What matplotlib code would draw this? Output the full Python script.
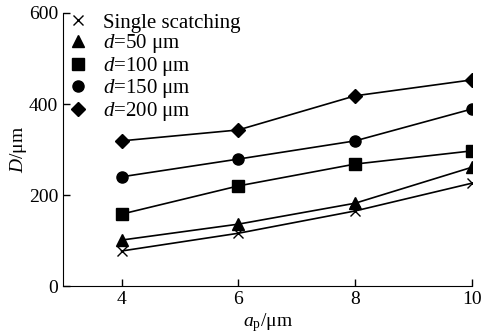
import matplotlib
matplotlib.use("Agg")
import matplotlib.pyplot as plt
from matplotlib.lines import Line2D

plt.rcParams['font.family'] = ['Liberation Serif', 'DejaVu Serif']
plt.rcParams['mathtext.fontset'] = 'custom'
plt.rcParams['mathtext.rm'] = 'Liberation Serif'
plt.rcParams['mathtext.it'] = 'Liberation Serif:italic'

ap = [4, 6, 8, 10]
single = [77, 116, 165, 226]
d50 = [101, 136, 182, 261]
d100 = [158, 220, 268, 297]
d150 = [240, 279, 319, 389]
d200 = [319, 343, 418, 453]

series = [
    (single, 'x', "Single scatching"),
    (d50, '^', "$d$=50 μm"),
    (d100, 's', "$d$=100 μm"),
    (d150, 'o', "$d$=150 μm"),
    (d200, 'D', "$d$=200 μm"),
]
sizes = {'x': 7, '^': 8, 's': 8, 'o': 8, 'D': 7.5}

fig = plt.figure(figsize=(4.82, 3.33), dpi=100)
ax = fig.add_axes([0.131, 0.141, 0.848, 0.82])

handles = []
for ys, mk, lab in series:
    ax.plot(ap, ys, color='black', lw=1.2, marker=mk, ms=sizes[mk], mew=1.0)
    handles.append(Line2D([], [], color='black', ls='none', marker=mk,
                          ms=sizes[mk], mew=1.0, label=lab))

ax.set_xlim(3, 10)
ax.set_ylim(0, 600)
ax.set_xticks([4, 6, 8, 10])
ax.set_yticks([0, 200, 400, 600])
ax.spines['top'].set_visible(False)
ax.spines['right'].set_visible(False)
ax.tick_params(direction='in', labelsize=14, length=5, width=1)
ax.set_xlabel("$a$$_\\mathrm{p}$/μm", fontsize=14, labelpad=2)
ax.set_ylabel("$D$/μm", fontsize=14, labelpad=0)

ax.legend(handles=handles, loc='upper left', bbox_to_anchor=(0.0, 1.03),
          frameon=False, fontsize=15, handlelength=0.6, handletextpad=0.9,
          labelspacing=-0.02, borderaxespad=0)

fig.savefig("out.png", dpi=100)
